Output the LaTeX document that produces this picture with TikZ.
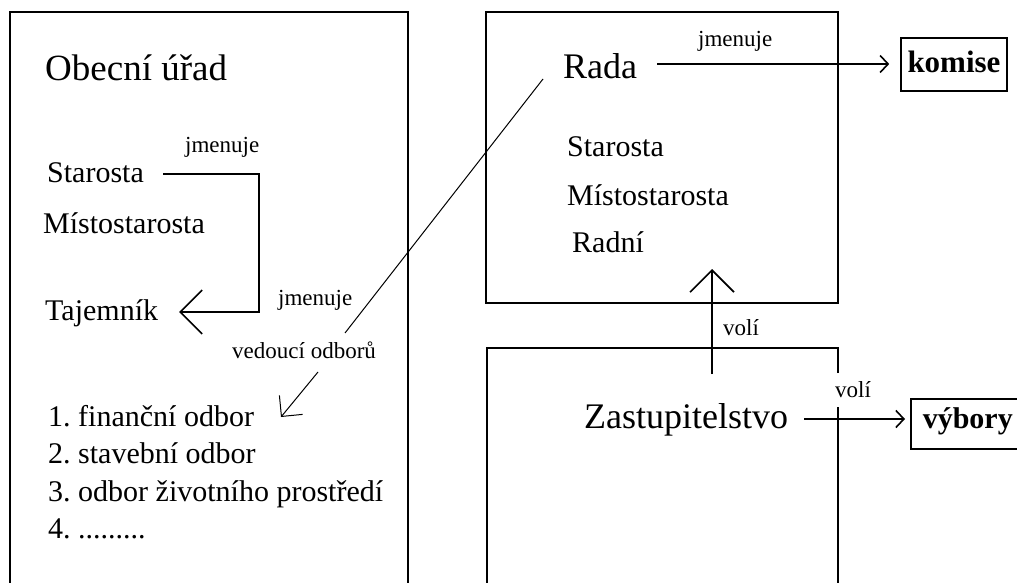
\documentclass[tikz,border=0pt]{standalone}
\usepackage{fontspec}
\setmainfont{Liberation Serif}
\usetikzlibrary{arrows.meta}
\frenchspacing
\begin{document}
\begin{tikzpicture}[x=1pt,y=-1pt,
  box/.style={line width=1.6pt},
  conn/.style={line width=1.6pt},
  thinconn/.style={line width=1pt},
  bigtip/.style={-{Straight Barb[length=22pt,width=44pt]}},
  midtip/.style={-{Straight Barb[length=15pt,width=30pt]}},
  smalltip/.style={-{Straight Barb[length=8pt,width=17pt]}},
  txt/.style={inner sep=0pt,anchor=base west,font=\fontsize{30}{36}\selectfont},
  head/.style={inner sep=0pt,anchor=base west,font=\fontsize{37}{44}\selectfont},
  lab/.style={inner sep=0pt,anchor=base west,font=\fontsize{23}{28}\selectfont},
  target/.style={draw,line width=1.6pt,inner sep=0pt,font=\fontsize{31}{37}\selectfont\bfseries}
]
\useasboundingbox (0,0) rectangle (1017,583);
\fill[white] (0,0) rectangle (1017,583);

% boxes
\draw[box] (10,583) -- (10,12) -- (408,12) -- (408,583);
\draw[box] (486,12) rectangle (838,303);
\draw[box] (838,373) -- (838,348) -- (487,348) -- (487,583);
\draw[box] (838,407) -- (838,583);

% left box texts
\node[head] (ou) at (45,81) {Obecní úřad};
\node[lab] (jm1) at (185,153) {jmenuje};
\node[txt] (st1) at (47,182) {Starosta};
\node[txt] (mi1) at (43,233) {Místostarosta};
\node[txt] (taj) at (45,320) {Tajemník};
\node[lab] (jm2) at (278,305) {jmenuje};
\node[lab] (ved) at (232,358) {vedoucí odborů};
\node[txt] (l1) at (48,426) {1. finanční odbor};
\node[txt] (l2) at (48,463) {2. stavební odbor};
\node[txt] (l3) at (48,501) {3. odbor životního prostředí};
\node[txt] (l4) at (48,538) {4. .........};

% Rada box texts
\node[head,font=\fontsize{36}{43}\selectfont] (rada) at (563,79) {Rada};
\node[lab] (jm3) at (698,47) {jmenuje};
\node[txt] (st2) at (567,157) {Starosta};
\node[txt] (mi2) at (567,205) {Místostarosta};
\node[txt] (radni) at (572,252) {Radní};
\node[lab] (vo1) at (723,335) {volí};

% Zastupitelstvo
\node[head,font=\fontsize{36}{43}\selectfont] (zast) at (584,428) {Zastupitelstvo};
\node[lab] (vo2) at (835,397) {volí};

% targets
\node[target,minimum width=106pt,text height=35pt,text depth=18pt] (komise) at (954,37) [anchor=north] {komise};
\begin{scope}
\clip (0,0) rectangle (1017,583);
\node[target,anchor=north west,inner xsep=12pt,text height=30pt,text depth=20pt,font=\fontsize{30}{36}\selectfont\bfseries] (vybory) at (910,398) {výbory};
\end{scope}

% connector coordinates
\coordinate (a0) at (163,174);
\coordinate (a1) at (259,174);
\coordinate (a2) at (259,312);
\coordinate (a3) at (179,312);
\coordinate (b0) at (543,79);
\coordinate (b1) at (345,333);
\coordinate (c0) at (318,372);
\coordinate (c1) at (281,417);
\coordinate (d0) at (657,64);
\coordinate (e0) at (712,374);
\coordinate (e1) at (712,269);
\coordinate (f0) at (804,419);
\coordinate (f1) at (905,419);

% connectors
\draw[conn,bigtip] (a0) -- (a1) -- (a2) -- (a3);
\draw[thinconn] (b0) -- (b1);
\draw[thinconn,midtip] (c0) -- (c1);
\draw[conn,smalltip,shorten >=11pt] (d0) -- (d0 -| komise.west);
\draw[conn,bigtip] (e0) -- (e1);
\draw[conn,smalltip] (f0) -- (f1);
\end{tikzpicture}
\end{document}
